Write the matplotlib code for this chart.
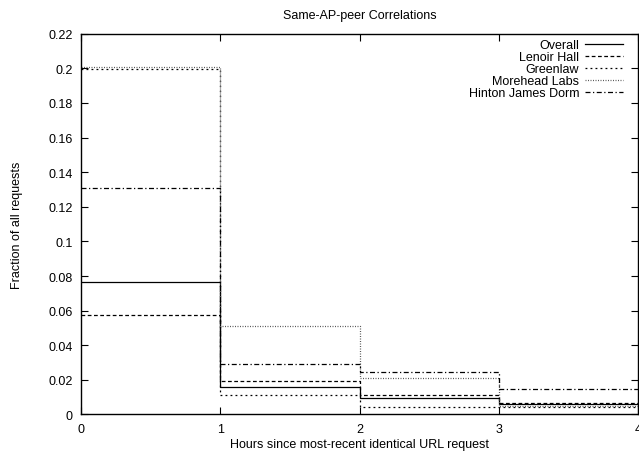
import matplotlib
matplotlib.use("Agg")
import matplotlib.pyplot as plt

plt.rcParams['font.family'] = ['Liberation Sans', 'DejaVu Sans']

# limites dos intervalos (horas)
horas = [0, 1, 2, 3, 4]

# fracao de requisicoes por intervalo
overall = [0.0767, 0.0160, 0.0095, 0.0060]
lenoir = [0.0573, 0.0195, 0.0114, 0.0065]
greenlaw = [0.1997, 0.0110, 0.0045, 0.0045]
morehead = [0.2006, 0.0510, 0.0212, 0.0050]
hinton = [0.1310, 0.0293, 0.0243, 0.0150]

series = [
    ("Overall", overall, "-", (0, 0, 0)),
    ("Lenoir Hall", lenoir, (0, (3, 2)), (0, 0, 0)),
    ("Greenlaw", greenlaw, (0, (1.5, 2.5)), (0, 0, 0)),
    ("Morehead Labs", morehead, (0, (0.8, 1.2)), (0.35, 0.35, 0.35)),
    ("Hinton James Dorm", hinton, (0, (4, 2, 1, 2)), (0, 0, 0)),
]

fig = plt.figure(figsize=(6.39, 4.52), dpi=100)
ax = fig.add_axes([0.1268, 0.0808, 0.8716, 0.8424])

for nome, vals, estilo, cor in series:
    ax.step(horas, vals + [vals[-1]], where="post", linestyle=estilo,
            color=cor, linewidth=0.9, label=nome)

ax.set_xlim(0, 4)
ax.set_ylim(0, 0.22)
ax.set_xticks(horas)
yt = [i * 0.02 for i in range(12)]
ax.set_yticks(yt)
ax.set_yticklabels(["0"] + ["%g" % round(v, 2) for v in yt[1:]])
ax.tick_params(direction="in", top=True, right=True, length=5, width=0.8,
               labelsize=9, pad=6)
for s in ax.spines.values():
    s.set_linewidth(1.0)

ax.set_title("Same-AP-peer Correlations", fontsize=9, pad=11)
ax.set_xlabel("Hours since most-recent identical URL request", fontsize=9, labelpad=2)
ax.set_ylabel("Fraction of all requests", fontsize=9, labelpad=18)

ax.legend(loc="upper right", bbox_to_anchor=(0.973, 0.986), frameon=False,
          markerfirst=False, fontsize=9, handlelength=3.0, labelspacing=0.0,
          borderaxespad=0, borderpad=0, handletextpad=0.5)

fig.savefig("out.png", dpi=100)
